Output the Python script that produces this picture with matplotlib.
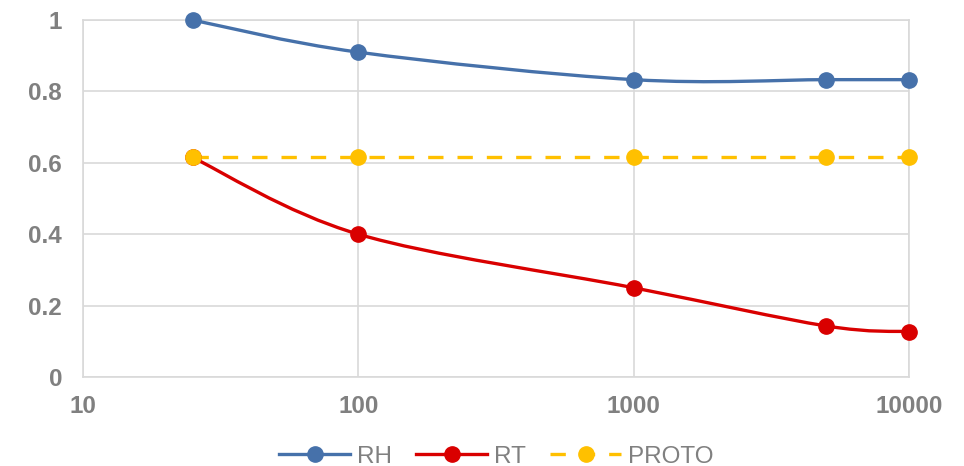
import numpy as np
import matplotlib.pyplot as plt
from matplotlib.path import Path
from matplotlib.patches import PathPatch
from matplotlib.lines import Line2D

plt.rcParams['font.family'] = ['Liberation Sans', 'DejaVu Sans']

x_values = [25, 100, 1000, 5000, 10000]
rh = [1.0, 0.91, 0.833, 0.833, 0.833]
rt = [0.615, 0.4, 0.25, 0.143, 0.127]
proto = [0.615, 0.615, 0.615, 0.615, 0.615]

series_names = ['RH', 'RT', 'PROTO']
colors = ['#4671AA', '#D90000', '#FFC000']

y_ticks = [0, 0.2, 0.4, 0.6, 0.8, 1.0]
y_tick_labels = ['0', '0.2', '0.4', '0.6', '0.8', '1']
x_ticks = [10, 100, 1000, 10000]
x_tick_labels = ['10', '100', '1000', '10000']

GRID = '#d9d9d9'
TEXT = '#808080'


def smooth_path(xs, ys):
    # Excel-style smoothed line: cubic Bezier segments, Catmull-Rom tangents in log-x space
    lx = np.log10(np.asarray(xs, dtype=float))
    y = np.asarray(ys, dtype=float)
    pts = np.column_stack([lx, y])
    n = len(pts)
    verts = [pts[0]]
    codes = [Path.MOVETO]
    for i in range(n - 1):
        p0 = pts[i - 1] if i > 0 else pts[i]
        p1 = pts[i]
        p2 = pts[i + 1]
        p3 = pts[i + 2] if i + 2 < n else pts[i + 1]
        c1 = p1 + (p2 - p0) / 6.0
        c2 = p2 - (p3 - p1) / 6.0
        verts += [c1, c2, p2]
        codes += [Path.CURVE4] * 3
    verts = np.array(verts)
    verts[:, 0] = 10 ** verts[:, 0]
    return Path(verts, codes)


fig = plt.figure(figsize=(9.64, 4.66), dpi=100)
ax = fig.add_axes([0.0861, 0.191, 0.8568, 0.766])

ax.set_xscale('log')
ax.set_xlim(10, 10000)
ax.set_ylim(0, 1)

ax.set_xticks(x_ticks)
ax.set_xticklabels(x_tick_labels)
ax.set_yticks(y_ticks)
ax.set_yticklabels(y_tick_labels)
ax.minorticks_off()
ax.tick_params(length=0, labelsize=17.5, labelcolor=TEXT)
ax.tick_params(axis='x', pad=13)
ax.tick_params(axis='y', pad=15)
for lab in ax.get_xticklabels() + ax.get_yticklabels():
    lab.set_fontweight('bold')

ax.grid(True, color=GRID, linewidth=1.2)
ax.set_axisbelow(True)
for sp in ax.spines.values():
    sp.set_color(GRID)
    sp.set_linewidth(1.2)

lw = 2.4
dash = (0, (4.6, 4.2))
handles = []
for name, vals, col in zip(series_names, [rh, rt, proto], colors):
    if name == 'PROTO':
        ax.plot(x_values, vals, color=col, lw=lw, linestyle=dash,
                dash_capstyle='butt', zorder=3, clip_on=False)
        ls = dash
    else:
        patch = PathPatch(smooth_path(x_values, vals), facecolor='none',
                          edgecolor=col, lw=lw, zorder=3, clip_on=False,
                          capstyle='round', joinstyle='round')
        ax.add_patch(patch)
        ls = '-'
    ax.plot(x_values, vals, linestyle='none', marker='o', markersize=11,
            color=col, zorder=4, clip_on=False)
    handles.append(Line2D([], [], color=col, lw=lw, linestyle=ls, marker='o',
                          markersize=11, label=name))

fig.legend(handles=handles, loc='center', bbox_to_anchor=(0.515, 0.02),
           ncol=3, frameon=False, fontsize=17.5, labelcolor=TEXT,
           handlelength=2.9, handletextpad=0.3, columnspacing=1.0,
           numpoints=1)

fig.savefig('out.png', dpi=100)
